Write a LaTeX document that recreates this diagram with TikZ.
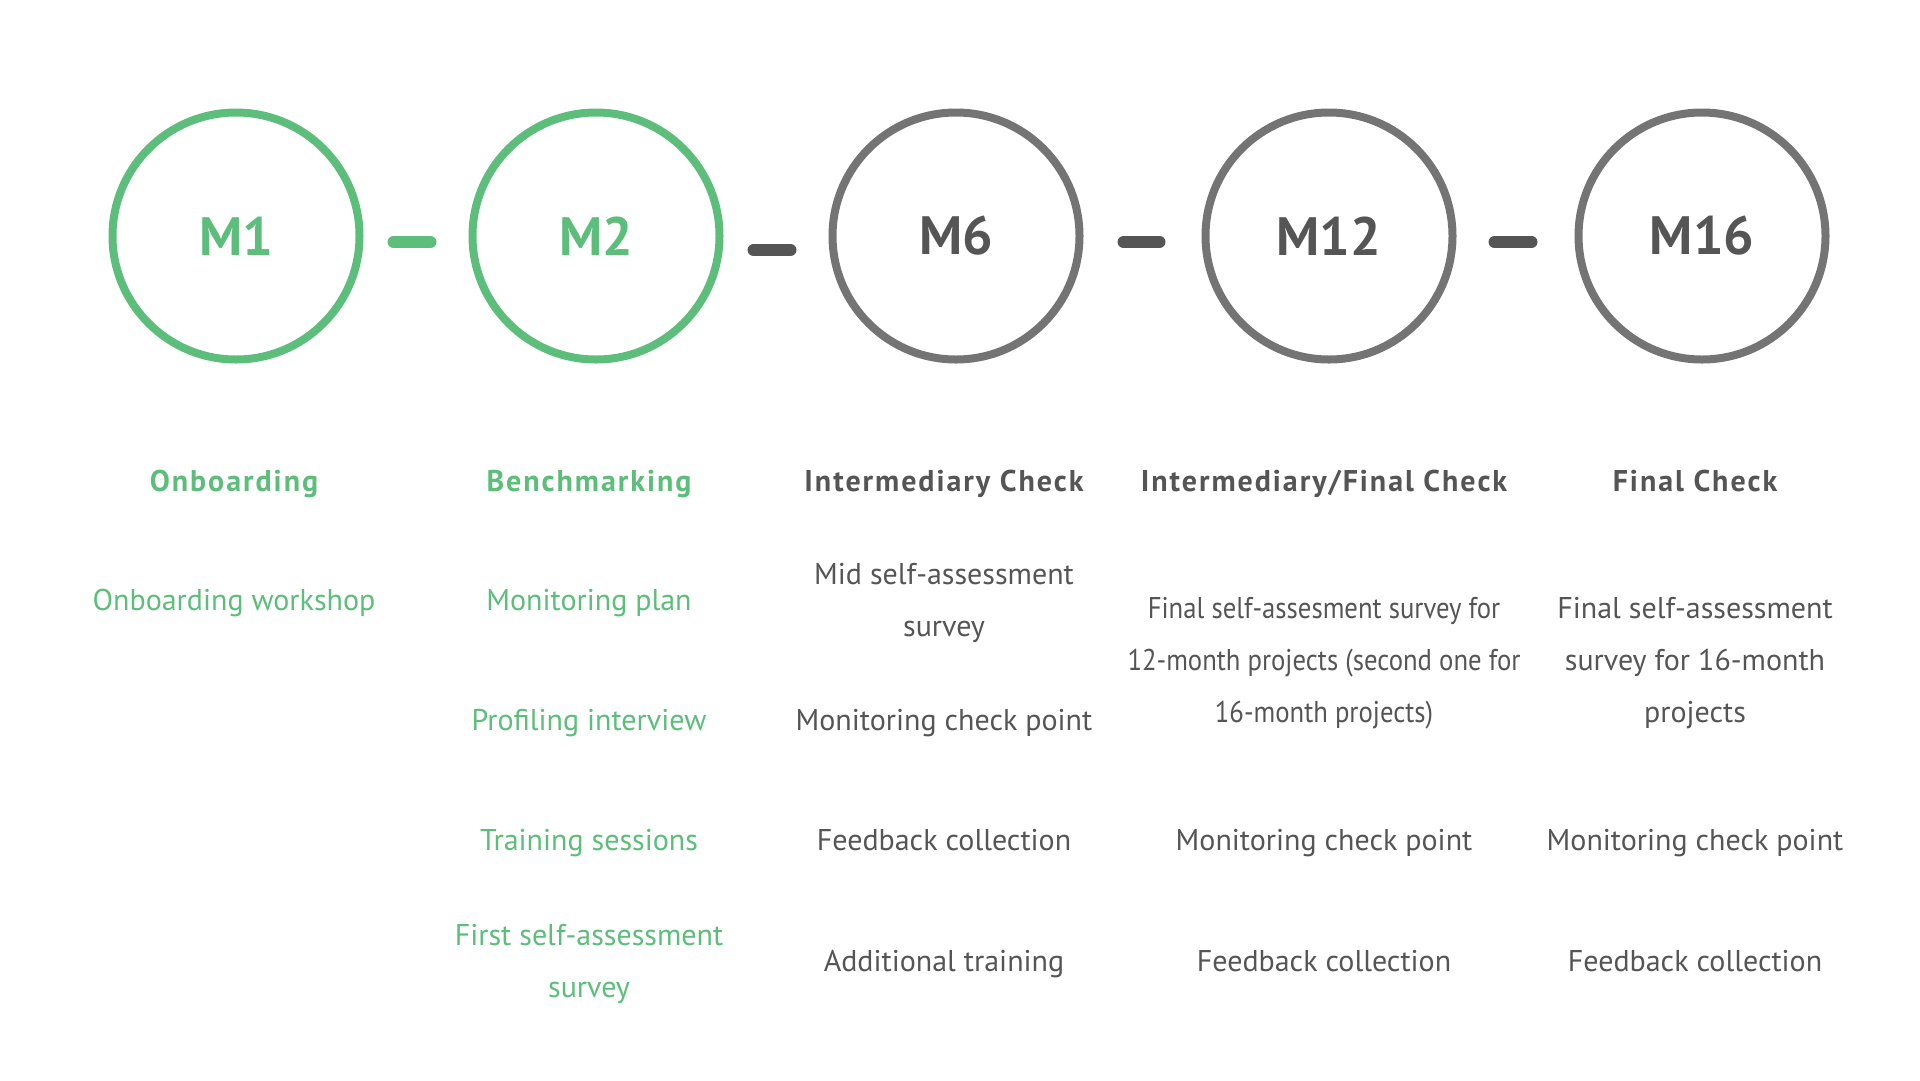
\documentclass[tikz,border=0pt]{standalone}
\usepackage{fontspec}
\setmainfont{PT Sans}
\newfontfamily\condfont[FakeStretch=0.89]{PT Sans}
\newfontfamily\headfont[LetterSpace=6.5]{PT Sans}
\definecolor{grn}{HTML}{5DBE7B}
\definecolor{gry}{HTML}{747474}
\definecolor{txt}{HTML}{555555}
\begin{document}
\begin{tikzpicture}[x=1pt,y=-1pt,
  mstone/.style={circle,draw,line width=8pt,minimum size=247pt,inner sep=0pt,
    font=\fontsize{54}{60}\selectfont\bfseries},
  done/.style={mstone,draw=grn,text=grn},
  todo/.style={mstone,draw=gry,text=txt},
  link/.style={line width=12pt,line cap=round},
  head/.style={font=\headfont\fontsize{30}{34}\selectfont\bfseries,inner sep=0pt,
    text height=22pt,text depth=7pt},
  item/.style={font=\fontsize{30}{52}\selectfont,align=center,inner sep=0pt},
  one/.style={item,text height=22pt,text depth=7pt},
  citem/.style={font=\condfont\fontsize{30}{52}\selectfont,align=center,inner sep=0pt},
  g/.style={text=grn},
  k/.style={text=txt}]
\useasboundingbox[fill=white] (0,0) rectangle (1920,1080);
% milestones
\node[done] (m1)  at (236,236) {M1};
\node[done] (m2)  at (596,236) {M2};
\node[todo] (m6)  at (956,236) {M6};
\node[todo] (m12) at (1329,236) {M12};
\node[todo] (m16) at (1702,236) {M16};
% links
\draw[link,draw=grn,shorten <=30pt,shorten >=38pt] ([yshift=-6pt]m1.east) -- ([yshift=-6pt]m2.west);
\draw[link,draw=txt,shorten <=30pt,shorten >=38pt] ([yshift=-14pt]m2.east) -- ([yshift=-14pt]m6.west);
\draw[link,draw=txt,shorten <=40pt,shorten >=42pt] ([yshift=-6pt]m6.east) -- ([yshift=-6pt]m12.west);
\draw[link,draw=txt,shorten <=38pt,shorten >=43pt] ([yshift=-6pt]m12.east) -- ([yshift=-6pt]m16.west);
% headings
\node[head,g] (h1) at (234,484) {Onboarding};
\node[head,g] (h2) at (589,484) {Benchmarking};
\node[head,k] (h3) at (944,484) {Intermediary Check};
\node[head,k] (h4) at (1324,484) {Intermediary/Final Check};
\node[head,k] (h5) at (1695,484) {Final Check};
% column 1
\node[one,g] (a1) at (234,603) {Onboarding workshop};
% column 2
\node[one,g] (b1) at (589,603) {Monitoring plan};
\node[one,g] (b2) at (589,723) {Profiling interview};
\node[one,g] (b3) at (589,843) {Training sessions};
\node[item,g] (b4) at (589,964) {First self-assessment\\survey};
% column 3
\node[item,k] (c1) at (944,603) {Mid self-assessment\\survey};
\node[one,k] (c2) at (944,723) {Monitoring check point};
\node[one,k] (c3) at (944,843) {Feedback collection};
\node[one,k] (c4) at (944,964) {Additional training};
% column 4
\node[citem,k] (d1) at (1324,663) {Final self-assesment survey for\\12-month projects (second one for\\16-month projects)};
\node[one,k] (d2) at (1324,843) {Monitoring check point};
\node[one,k] (d3) at (1324,964) {Feedback collection};
% column 5
\node[item,k] (e1) at (1695,663) {Final self-assessment\\survey for 16-month\\projects};
\node[one,k] (e2) at (1695,843) {Monitoring check point};
\node[one,k] (e3) at (1695,964) {Feedback collection};
\end{tikzpicture}
\end{document}
